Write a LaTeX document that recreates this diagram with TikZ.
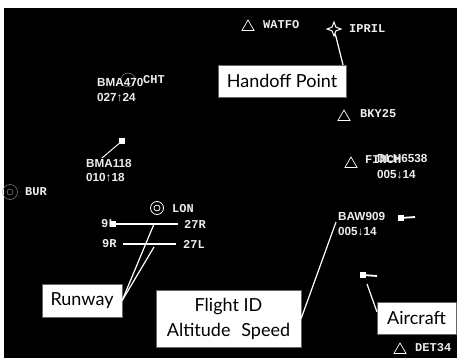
\documentclass[tikz,border=0pt]{standalone}
\usepackage{fontspec}
\setmainfont{Liberation Sans}
\newfontfamily\callfont{Lato}
\newfontfamily\wayfont{Liberation Mono}
\usetikzlibrary{shapes.geometric}
\definecolor{lab}{gray}{0.93}
\tikzset{
  flight/.style={text=lab,font=\bfseries\fontsize{11.7}{14}\selectfont,inner sep=0pt,anchor=west,align=left},
  way/.style={text=lab,font=\wayfont\bfseries\fontsize{12}{14}\selectfont,inner sep=0pt,anchor=west},
  callout/.style={fill=white,draw=black!60,line width=0.3pt,text=black,font=\callfont\fontsize{18}{25}\selectfont,inner sep=0pt,align=center},
  lead/.style={draw=white,line width=1.2pt},
  tri/.style={regular polygon,regular polygon sides=3,draw=white,line width=0.7pt,minimum size=14pt,inner sep=0pt},
  plane/.style={fill=white,minimum size=5.5pt,inner sep=0pt},
  track/.style={draw=white,line width=1.8pt}
}
\begin{document}
\begin{tikzpicture}[x=1pt,y=-1pt]
\useasboundingbox (0,0) rectangle (457,358);
\fill[white] (0,0) rectangle (457,358);
\fill[black] (4,8) rectangle (457,358);
% beacons
\draw[gray!70,line width=0.4pt] (128,80) circle (7);
\node[way] (cht) at (143,80) {CHT};
\node[tri] (twatfo) at (248,27) {};
\node[way] (watfo) at (263,25) {WATFO};
\node[draw=white,line width=1pt,star,star points=4,star point ratio=2.6,minimum size=14pt,inner sep=0pt] (iprilstar) at (334,29) {};
\node[way] (ipril) at (349,29) {IPRIL};
\node[tri] (tbky) at (344,117) {};
\node[way] (bky) at (360,114) {BKY25};
\node[tri] (tfinch) at (351,164) {};
\node[way] (finch) at (365,160) {FINCH};
\node[tri] (tdet) at (400,350) {};
\node[way] (det) at (415,348) {DET34};
\node[circle,draw=gray!80,line width=0.4pt,minimum size=15pt,inner sep=0pt] (burout) at (10,192) {};
\node[circle,draw=gray!80,line width=0.4pt,minimum size=6pt,inner sep=0pt] at (10,192) {};
\node[way] (bur) at (25,192) {BUR};
\node[circle,draw=white,line width=0.8pt,minimum size=13pt,inner sep=0pt] (lonout) at (157,208) {};
\node[circle,draw=white,line width=0.8pt,minimum size=6pt,inner sep=0pt] at (157,208) {};
\node[way] (lon) at (172,209) {LON};
% flights
\node[flight] (f1) at (97,82) {BMA470};
\node[flight] (f1b) at (97,98) {027↑24};
\node[flight] (f2) at (86,163) {BMA118};
\node[flight] (f2b) at (86,178) {010↑18};
\node[flight] (f3) at (377,158) {DLH6538};
\node[flight] (f3b) at (377,175) {005↓14};
\node[flight] (f4) at (338,216) {BAW909};
\node[flight] (f4b) at (338,232) {005↓14};
% aircraft
\node[plane] (p1) at (122,141) {};
\coordinate (p1e) at (102,158);
\draw[lead,line width=0.9pt] (p1) -- (p1e);
\node[plane] (p2) at (401,218) {};
\coordinate (p2e) at (415,217);
\draw[track] (p2) -- (p2e);
\node[plane] (p3) at (363,275) {};
\coordinate (p3e) at (377,276);
\draw[track] (p3) -- (p3e);
% runways
\node[way] (r9l) at (101,224) {9L};
\node[way] (r27r) at (184,224) {27R};
\node[way] (r9r) at (102,244) {9R};
\node[way] (r27l) at (183,244) {27L};
\draw[track,shorten >=6pt] (r9l.east) -- (r27r.west);
\draw[track,shorten <=6pt,shorten >=7pt] (r9r.east) -- (r27l.west);
\node[plane] (p4) at (113,224) {};
% callouts
\node[callout,minimum width=128pt,minimum height=32pt] (hand) at (282,81) {Handoff Point};
\node[callout,minimum width=80pt,minimum height=33pt] (run) at (82,300.5) {Runway};
\node[callout,minimum width=145pt,minimum height=57pt] (fid) at (228.5,318.5) {Flight ID\\Altitude\hspace{0.6em}Speed};
\node[callout,minimum width=79pt,minimum height=32pt] (air) at (416.5,318) {Aircraft};
% leaders
\coordinate (a1) at (154,224);
\coordinate (a2) at (154,247);
\coordinate (a3) at (336,222);
\coordinate (a4) at (367,284);
\coordinate (a5) at (377,312);
\draw[lead] (iprilstar) -- (343,65);
\draw[lead] (run.east) -- (a1);
\draw[lead] (run.east) -- (a2);
\draw[lead] (fid.east) -- (a3);
\draw[lead] (a5) -- (a4);
\end{tikzpicture}
\end{document}
